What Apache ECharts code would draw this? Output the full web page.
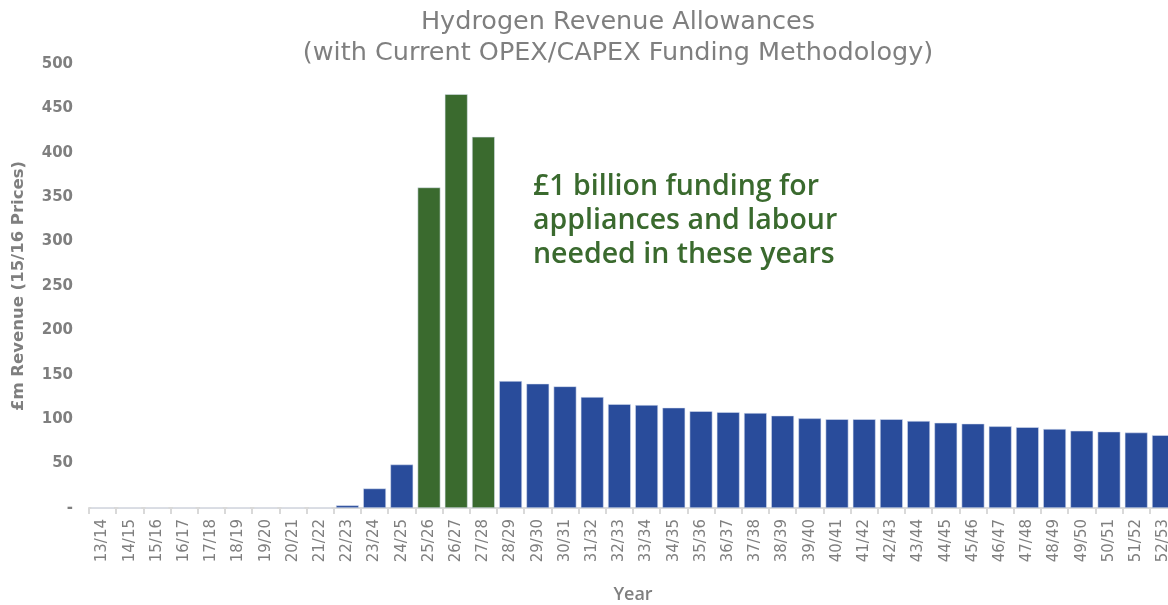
<!DOCTYPE html>
<html>
<head>
<meta charset="utf-8">
<script src="https://cdn.jsdelivr.net/npm/echarts@6/dist/echarts.min.js"></script>
<style>
html,body{margin:0;padding:0;background:#fff;}
#chart{width:1168px;height:605px;}
</style>
</head>
<body>
<div id="chart"></div>
<script>
const categories = ['13/14','14/15','15/16','16/17','17/18','18/19','19/20','20/21','21/22','22/23',
  '23/24','24/25','25/26','26/27','27/28','28/29','29/30','30/31','31/32','32/33',
  '33/34','34/35','35/36','36/37','37/38','38/39','39/40','40/41','41/42','42/43',
  '43/44','44/45','45/46','46/47','47/48','48/49','49/50','50/51','51/52','52/53'];
const revenue = [0,0,0,0,0,0,0,0,0,3,
  22,49,361,466,418,143,140,137,125,117,
  116,113,109,108,107,104,101,100,100,100,
  98,96,95,92,91,89,87,86,85,82];
const highlighted = ['25/26','26/27','27/28'];
const yTicks = [0,50,100,150,200,250,300,350,400,450,500];

const BLUE = '#294c9b';
const GREEN = '#3a6a2e';
const GREY = '#7f7f7f';
const WIDE = '"DejaVu Sans", sans-serif';
const OPEN = '"Open Sans", sans-serif';

const chart = echarts.init(document.getElementById('chart'));
chart.setOption({
  animation: false,
  backgroundColor: '#fff',
  title: {
    text: 'Hydrogen Revenue Allowances\n(with Current OPEX/CAPEX Funding Methodology)',
    left: 613,
    top: 2,
    textAlign: 'center',
    textStyle: {color: GREY, fontFamily: WIDE, fontSize: 25.5, fontWeight: 'normal', lineHeight: 31}
  },
  grid: {left: 89, right: -9, top: 64, bottom: 97, containLabel: false, outerBoundsMode: 'none'},
  xAxis: {
    type: 'category',
    data: categories,
    name: 'Year',
    nameLocation: 'middle',
    nameGap: 78,
    nameTextStyle: {color: GREY, fontFamily: OPEN, fontSize: 18, fontWeight: 600},
    axisLine: {lineStyle: {color: '#d9d9d9', width: 2}},
    axisTick: {show: true, length: 6, lineStyle: {color: '#d9d9d9', width: 2}},
    axisLabel: {rotate: 90, color: GREY, fontFamily: WIDE, fontSize: 15, fontWeight: 'normal', margin: 11, interval: 0}
  },
  yAxis: {
    type: 'value',
    min: yTicks[0],
    max: yTicks[yTicks.length - 1],
    interval: yTicks[1] - yTicks[0],
    name: '£m Revenue (15/16 Prices)',
    nameLocation: 'middle',
    nameGap: 62,
    nameTextStyle: {color: GREY, fontFamily: WIDE, fontSize: 16.5, fontWeight: 'bold'},
    axisLine: {show: false},
    axisTick: {show: false},
    splitLine: {show: false},
    axisLabel: {
      color: GREY, fontFamily: WIDE, fontSize: 15, fontWeight: 'bold', margin: 16,
      formatter: v => v === 0 ? '-' : String(v)
    }
  },
  series: [{
    type: 'bar',
    barCategoryGap: '16%',
    data: revenue.map((v, i) => ({
      value: v,
      itemStyle: {color: highlighted.includes(categories[i]) ? GREEN : BLUE}
    })),
    itemStyle: {borderColor: 'rgba(220,228,242,0.9)', borderWidth: 0.6}
  }],
  graphic: [{
    type: 'text',
    left: 533,
    top: 170,
    style: {
      text: '£1 billion funding for\nappliances and labour\nneeded in these years',
      fill: GREEN,
      font: '600 28.5px "Open Sans", sans-serif',
      lineHeight: 34
    }
  }]
});
</script>
</body>
</html>
